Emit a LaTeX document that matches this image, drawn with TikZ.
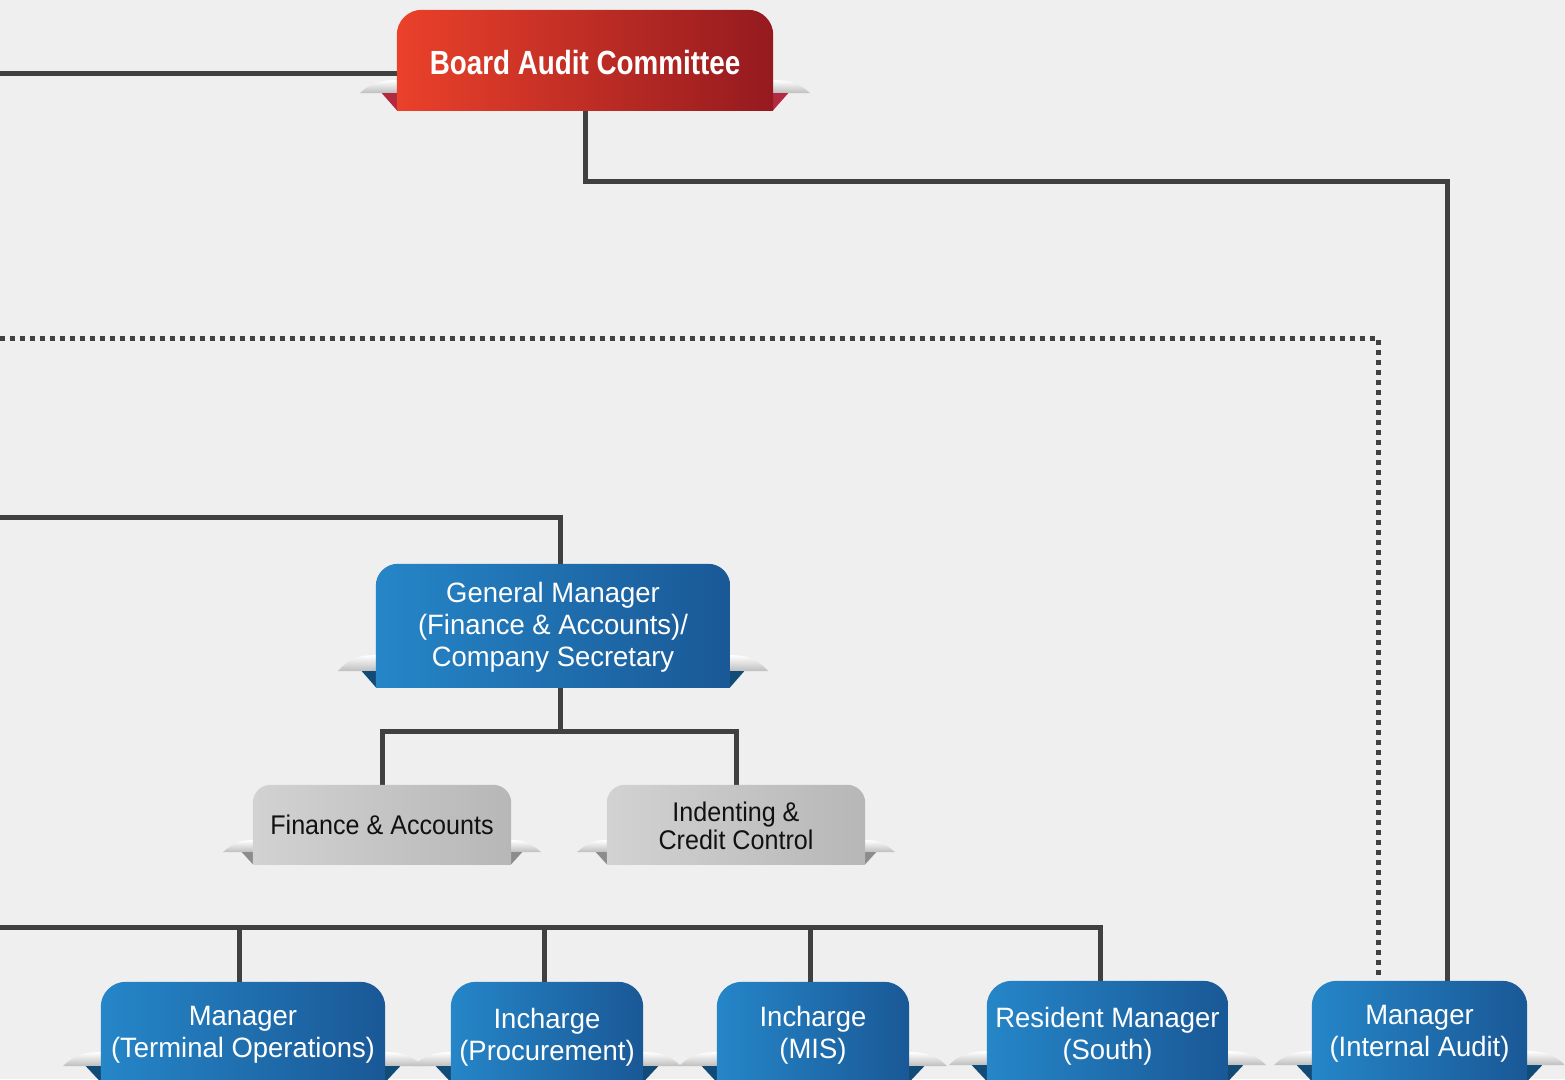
\documentclass[tikz,border=0pt]{standalone}
\usepackage{fontspec}
\setmainfont{Liberation Sans}[FakeStretch=0.93]
\newfontfamily\bluefont{Liberation Sans}[FakeStretch=0.98]
\newfontfamily\titlefont{Liberation Sans}[FakeStretch=0.83]
\pgfdeclarelayer{bglayer}
\pgfdeclarelayer{lines}
\pgfdeclarelayer{boxes}
\pgfsetlayers{bglayer,lines,boxes,main}
\definecolor{bgc}{HTML}{EFEFEF}
\definecolor{linegray}{HTML}{404040}
\definecolor{redL}{HTML}{EA412A}
\definecolor{redR}{HTML}{951A1F}
\definecolor{redF}{HTML}{B22A40}
\definecolor{blueL}{HTML}{2586C8}
\definecolor{blueR}{HTML}{1A5896}
\definecolor{blueF}{HTML}{124B75}
\definecolor{grayL}{HTML}{D2D2D2}
\definecolor{grayR}{HTML}{B7B7B7}
\definecolor{grayF}{HTML}{8C8C8C}
\definecolor{txtgray}{HTML}{111111}
\definecolor{wingshade}{HTML}{BDBDBD}
\tikzset{
  box/.style={inner sep=0pt, align=center, text=white, font={\bluefont\fontsize{28}{32}\selectfont}},
  titlebox/.style={inner sep=0pt, align=center, text=white, font={\titlefont\fontsize{33.5}{36}\selectfont\bfseries}},
  graybox/.style={inner sep=0pt, align=center, text=txtgray, font=\fontsize{27}{28}\selectfont},
  conn/.style={draw=linegray, line width=5pt, line join=miter},
  dotconn/.style={draw=linegray, line width=5pt, dash pattern=on 5pt off 5pt},
}
% #1 node, #2 colour prefix, #3 radius, #4 flap width, #5 flap height,
% #6 wing length, #7 wing height, #8 upward shift of the drawn box
\newcommand\ribbon[8]{%
  \begin{pgfonlayer}{boxes}
    \begin{scope}[shift={([yshift=#8pt]#1.south west)}]
      \shade[top color=white, bottom color=wingshade]
        (-#6,-#5) .. controls (-#6+14,-#5-#7) and (-10,-#5-#7) .. (0,-#5-#7) -- (0,-#5) -- cycle;
      \fill[#2F] (-#4,-#5) -- (0,-#5) -- (0,0) -- cycle;
    \end{scope}
    \begin{scope}[shift={([yshift=#8pt]#1.south east)}, xscale=-1]
      \shade[top color=white, bottom color=wingshade]
        (-#6,-#5) .. controls (-#6+14,-#5-#7) and (-10,-#5-#7) .. (0,-#5-#7) -- (0,-#5) -- cycle;
      \fill[#2F] (-#4,-#5) -- (0,-#5) -- (0,0) -- cycle;
    \end{scope}
    \begin{scope}
      \clip ([yshift=#8pt]#1.south west) rectangle ([yshift=#8pt]#1.north east);
      \shade[left color=#2L, right color=#2R, rounded corners=#3pt]
        ([yshift=#8pt-40pt]#1.south west) rectangle ([yshift=#8pt]#1.north east);
    \end{scope}
  \end{pgfonlayer}}
\begin{document}
\begin{tikzpicture}[x=1pt, y=-1pt]
\useasboundingbox (0,0) rectangle (1565,1079);
\clip (0,0) rectangle (1565,1079);
\begin{pgfonlayer}{bglayer}
  \fill[bgc] (0,0) rectangle (1565,1079);
\end{pgfonlayer}

% nodes
\node[titlebox, minimum width=376pt, minimum height=100pt] (bac) at (585,63) {Board Audit Committee};
\node[box, minimum width=354pt, minimum height=123pt] (gm) at (553,627.5)
  {General Manager\\(Finance \& Accounts)/\\Company Secretary};
\node[graybox, minimum width=258pt, minimum height=79pt] (fa) at (382,825) {Finance \& Accounts};
\node[graybox, minimum width=258pt, minimum height=79pt] (icc) at (736,825.5) {Indenting \&\\Credit Control};
\node[box, minimum width=284pt, minimum height=100pt] (mto) at (243,1035) {Manager\\(Terminal Operations)};
\node[box, minimum width=192pt, minimum height=100pt] (proc) at (547,1037) {Incharge\\(Procurement)};
\node[box, minimum width=192pt, minimum height=100pt] (mis) at (813,1035) {Incharge\\(MIS)};
\node[box, minimum width=241pt, minimum height=100pt] (rms) at (1107.5,1036) {Resident Manager\\(South)};
\node[box, minimum width=215pt, minimum height=100pt] (mia) at (1419.5,1034) {Manager\\(Internal Audit)};

% box backgrounds
\ribbon{bac}{red}{25}{15}{17}{37}{13}{3}
\ribbon{gm}{blue}{22}{14}{16}{38}{16}{2}
\ribbon{fa}{gray}{18}{11}{12}{30}{12}{0.5}
\ribbon{icc}{gray}{18}{11}{12}{30}{12}{1}
\ribbon{mto}{blue}{25}{15}{16}{38}{14}{3}
\ribbon{proc}{blue}{25}{15}{16}{38}{14}{5}
\ribbon{mis}{blue}{25}{15}{16}{38}{14}{3}
\ribbon{rms}{blue}{25}{15}{16}{38}{14}{5}
\ribbon{mia}{blue}{25}{15}{16}{38}{14}{3}

% connectors (drawn beneath the boxes)
\begin{pgfonlayer}{lines}
\coordinate (inL) at (0,73);
\draw[conn] (inL) -- (inL -| bac.west);
\coordinate (aR) at (1447,181);
\draw[conn] ([yshift=8pt]bac.south) |- (aR) -- (aR |- mia.north);
\coordinate (dL) at (0,338);
\coordinate (dR) at (1378,338);
\draw[dotconn] (dL) -- (dR) -- ([yshift=9pt]dR |- mia.north);
\coordinate (gL) at (0,517);
\coordinate (gR) at (560,517);
\draw[conn] (gL) -- (gR) -- (gR |- gm.north);
\coordinate (gB) at (560,731);
\draw[conn] ([yshift=8pt]gB |- gm.south) -- (gB);
\draw[conn] (fa.north) |- (gB) -| (icc.north);
\coordinate (bL) at (0,927);
\coordinate (bR) at (1100,927);
\draw[conn] (bL) -- (bR) -- (bR |- rms.north);
\coordinate (tmto) at (239,927);
\coordinate (tproc) at (544,927);
\coordinate (tmis) at (810,927);
\draw[conn] (tmto) -- (tmto |- mto.north);
\draw[conn] (tproc) -- (tproc |- proc.north);
\draw[conn] (tmis) -- (tmis |- mis.north);
\end{pgfonlayer}
\end{tikzpicture}
\end{document}
